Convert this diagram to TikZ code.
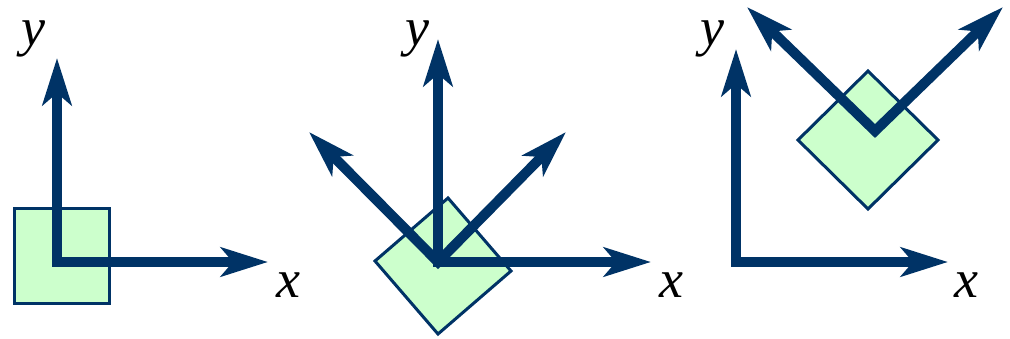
\documentclass[tikz,border=0pt]{standalone}
\usepackage{fontspec}
\setmainfont{Liberation Serif}
\usetikzlibrary{arrows.meta}
\definecolor{axblue}{RGB}{0,51,102}
\definecolor{boxgreen}{RGB}{204,255,204}
\tikzset{
  axis/.style={draw=axblue, line width=10pt, line join=miter,
    {Stealth[length=47pt,width=29pt,inset=12pt]}-{Stealth[length=47pt,width=29pt,inset=12pt]}},
  plate/.style={draw=axblue, fill=boxgreen, line width=3pt, line join=miter},
  lab/.style={inner sep=0pt, font=\fontsize{54}{60}\selectfont\itshape}
}
\begin{document}
\begin{tikzpicture}[x=1pt,y=-1pt]
\useasboundingbox (0,0) rectangle (1010,338);
% ---------- panel 1 ----------
\draw[plate] (14.5,208) rectangle (109.5,303);
\coordinate (o1) at (57,262);
\coordinate (y1) at (57,58);
\coordinate (x1) at (268,262);
\draw[axis] (y1) -- (o1) -- (x1);
\node[lab] (ly1) at (33,38.5) {y};
\node[lab] (lx1) at (288,285.5) {x};
% ---------- panel 2 ----------
\draw[plate] (448,198) -- (511,271) -- (438,334) -- (375,261) -- cycle;
\coordinate (o2) at (438,262);
\coordinate (y2) at (438,39);
\coordinate (x2) at (651,262);
\coordinate (l2) at (309,132);
\coordinate (r2) at (566,132);
\draw[axis] (l2) -- (o2) -- (r2);
\draw[axis] (y2) -- (o2) -- (x2);
\node[lab] (ly2) at (417,38.5) {y};
\node[lab] (lx2) at (671,285.5) {x};
% ---------- panel 3 ----------
\draw[plate] (868,71) -- (938,140) -- (868,209) -- (798,140) -- cycle;
\coordinate (o3) at (736,262);
\coordinate (y3) at (736,49);
\coordinate (x3) at (948,262);
\coordinate (v3) at (875,131);
\coordinate (l3) at (747,7);
\coordinate (r3) at (1003,7);
\draw[axis] (y3) -- (o3) -- (x3);
\draw[axis] (l3) -- (v3) -- (r3);
\node[lab] (ly3) at (712,38.5) {y};
\node[lab] (lx3) at (966,285.5) {x};
\end{tikzpicture}
\end{document}
